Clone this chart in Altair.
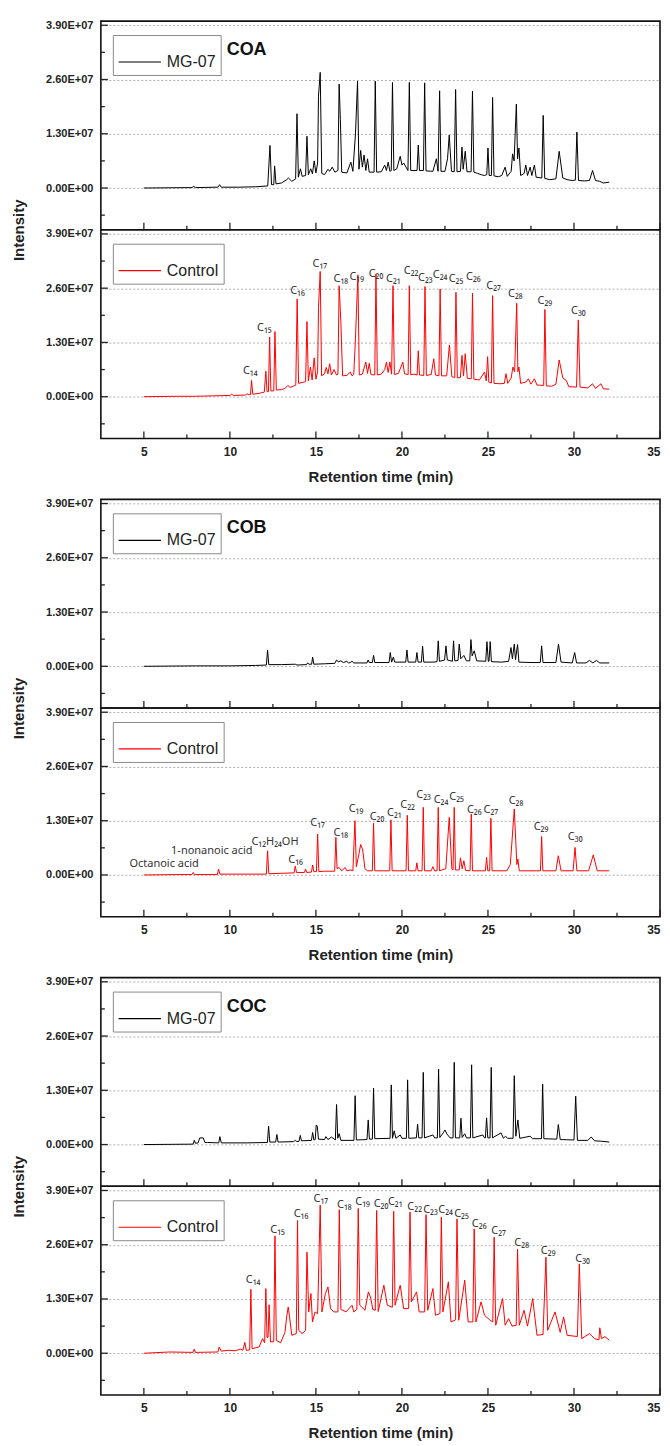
import altair as alt
import pandas as pd

# ---------------- axes / ticks ----------------
X_DOMAIN = [2.5, 35]
Y_DOMAIN = [-1.0e7, 4.0e7]
x_major = [5, 10, 15, 20, 25, 30, 35]
x_minor = [7.5, 12.5, 17.5, 22.5, 27.5, 32.5]
y_major = [0, 1.3e7, 2.6e7, 3.9e7]
y_minor = [-0.65e7, 0.65e7, 1.95e7, 3.25e7]

groups = ["COA", "COB", "COC"]
series_names = ["MG-07", "Control"]
series_colors = ["#000000", "#ff0000"]

# ---------------- traces: (retention time min, intensity x1e6) ----------------
coa_mg07 = [(5.0,0.0),(7.8,0.1),(7.9,0.4),(8.0,0.1),(9.3,0.2),(9.4,0.8),(9.5,0.2),(10.5,0.2),(11.5,0.3),(12.2,0.5),(12.33,10.2),(12.42,0.8),(12.55,0.8),(12.6,5.3),(12.68,1.0),(13.0,1.2),(13.3,2.0),(13.4,2.4),(13.6,1.6),(13.82,2.2),(13.9,17.8),(13.98,2.6),(14.1,4.6),(14.2,2.8),(14.4,3.0),(14.48,12.4),(14.56,3.2),(14.7,4.6),(14.8,3.4),(14.9,6.5),(15.0,3.6),(15.1,6.0),(15.15,22.0),(15.25,27.7),(15.34,3.5),(15.5,3.2),(15.7,4.5),(15.8,4.0),(15.95,5.0),(16.1,3.8),(16.28,4.2),(16.35,24.9),(16.42,16.5),(16.5,3.8),(16.8,3.6),(17.03,6.2),(17.15,4.0),(17.3,13.0),(17.42,25.6),(17.5,4.5),(17.6,9.0),(17.7,5.0),(17.8,7.9),(17.9,4.2),(18.0,7.0),(18.1,3.8),(18.38,3.8),(18.45,25.6),(18.53,3.8),(18.8,3.9),(19.0,5.5),(19.1,4.2),(19.2,6.2),(19.3,4.0),(19.38,4.2),(19.45,25.3),(19.53,4.2),(19.7,4.6),(19.9,7.6),(20.0,5.5),(20.1,6.0),(20.35,4.2),(20.43,25.3),(20.51,4.2),(20.7,4.2),(20.88,4.2),(20.95,10.3),(21.02,4.2),(21.25,4.2),(21.32,25.2),(21.4,4.1),(21.8,4.0),(22.0,7.0),(22.1,4.0),(22.19,23.3),(22.27,4.0),(22.5,4.0),(22.65,7.0),(22.75,12.7),(22.88,4.0),(23.04,3.9),(23.12,23.6),(23.2,3.9),(23.4,4.0),(23.49,9.8),(23.56,4.5),(23.68,8.8),(23.78,3.9),(24.02,3.9),(24.1,23.2),(24.18,3.8),(24.4,3.5),(24.6,3.2),(24.8,3.0),(24.93,3.2),(25.0,9.6),(25.07,3.0),(25.2,3.0),(25.27,21.7),(25.35,2.9),(25.6,2.7),(25.8,3.0),(26.0,5.0),(26.12,2.8),(26.35,4.0),(26.43,8.2),(26.52,6.5),(26.65,20.1),(26.72,7.0),(26.8,9.6),(26.9,3.0),(27.1,3.5),(27.2,5.5),(27.3,3.0),(27.45,5.0),(27.55,3.0),(27.7,5.5),(27.8,2.6),(28.13,2.4),(28.21,17.4),(28.3,2.3),(28.6,2.0),(28.95,2.2),(29.14,8.8),(29.35,2.4),(29.6,2.0),(29.9,1.8),(30.08,1.9),(30.17,13.4),(30.26,1.8),(30.6,1.7),(30.9,1.8),(31.08,4.2),(31.25,1.8),(31.5,1.6),(31.7,1.2),(32.05,1.4)]

coa_control = [(5.0,0.0),(7.0,0.1),(8.0,0.1),(9.0,0.2),(10.0,0.3),(10.1,0.6),(10.2,0.3),(10.9,0.4),(11.0,0.7),(11.1,0.5),(11.2,0.5),(11.26,3.9),(11.33,0.6),(11.7,0.8),(12.0,1.1),(12.09,6.1),(12.16,1.2),(12.24,1.2),(12.31,14.3),(12.38,1.4),(12.55,1.4),(12.62,15.6),(12.7,1.6),(13.0,1.7),(13.2,2.0),(13.37,2.7),(13.5,2.2),(13.83,2.8),(13.91,23.4),(13.99,3.2),(14.2,3.4),(14.4,3.6),(14.48,18.0),(14.56,3.8),(14.68,7.1),(14.78,4.0),(14.9,9.3),(15.0,4.2),(15.1,6.0),(15.15,21.4),(15.25,30.0),(15.33,5.0),(15.5,5.5),(15.6,7.0),(15.7,5.5),(15.8,7.9),(15.9,5.2),(16.05,6.5),(16.2,5.2),(16.28,5.4),(16.35,26.6),(16.45,17.9),(16.55,5.0),(16.8,5.1),(17.0,5.9),(17.1,5.0),(17.2,5.4),(17.3,14.0),(17.44,29.2),(17.52,5.2),(17.7,5.4),(17.9,8.3),(18.0,5.6),(18.1,8.0),(18.2,5.3),(18.42,5.2),(18.49,29.4),(18.57,5.2),(18.8,5.4),(19.0,6.5),(19.1,8.3),(19.2,5.8),(19.3,8.3),(19.4,5.4),(19.48,26.6),(19.56,5.3),(19.8,5.6),(20.05,8.3),(20.15,5.5),(20.36,5.3),(20.43,26.6),(20.51,5.3),(20.7,5.4),(20.88,5.2),(20.95,11.0),(21.02,5.2),(21.27,5.1),(21.34,26.4),(21.42,5.1),(21.7,5.3),(21.85,9.1),(21.95,5.2),(22.15,5.0),(22.22,25.8),(22.3,5.0),(22.6,5.0),(22.76,12.4),(22.9,4.8),(23.07,4.6),(23.14,25.0),(23.22,4.5),(23.4,4.6),(23.49,9.9),(23.58,5.0),(23.68,10.3),(23.8,4.4),(24.03,4.3),(24.1,24.8),(24.18,4.2),(24.5,4.0),(24.8,5.9),(24.9,3.8),(24.98,9.6),(25.05,3.5),(25.2,3.3),(25.27,24.2),(25.35,3.2),(25.7,3.1),(25.95,3.2),(26.05,5.5),(26.15,3.2),(26.35,4.5),(26.45,7.1),(26.55,6.0),(26.67,22.4),(26.74,6.0),(26.8,7.1),(26.9,3.2),(27.2,3.5),(27.35,4.3),(27.5,3.0),(27.7,4.3),(27.85,2.8),(28.24,2.7),(28.31,20.9),(28.39,2.6),(28.7,2.5),(28.95,3.0),(29.14,8.8),(29.35,4.5),(29.55,3.9),(29.7,2.4),(30.15,2.3),(30.25,18.4),(30.35,2.3),(30.8,2.1),(31.08,3.1),(31.25,2.0),(31.57,3.1),(31.7,1.9),(32.05,1.8)]

cob_mg07 = [(5.0,0.0),(8.0,0.1),(10.0,0.1),(11.5,0.2),(12.12,0.3),(12.19,3.9),(12.26,0.4),(13.0,0.4),(13.8,0.5),(13.9,0.3),(14.45,0.4),(14.52,0.8),(14.6,0.5),(14.75,0.5),(14.81,2.2),(14.88,0.5),(15.5,0.6),(16.1,0.7),(16.2,1.5),(16.3,1.1),(16.45,1.3),(16.6,0.9),(16.8,1.2),(16.9,0.8),(17.0,0.9),(17.1,1.2),(17.2,0.8),(17.97,0.8),(18.04,1.5),(18.1,0.9),(18.28,0.9),(18.35,2.6),(18.42,0.9),(19.25,0.9),(19.32,3.3),(19.4,1.0),(19.5,2.2),(19.58,1.0),(20.22,1.0),(20.29,3.9),(20.36,1.0),(20.8,1.0),(20.87,3.3),(20.94,1.0),(21.13,1.0),(21.2,4.8),(21.27,1.0),(21.8,1.0),(22.04,1.1),(22.11,6.1),(22.18,1.2),(22.48,1.5),(22.56,4.9),(22.64,1.5),(22.93,1.2),(23.0,6.1),(23.07,1.3),(23.26,1.4),(23.33,5.3),(23.42,1.8),(23.6,2.6),(23.75,1.3),(23.94,1.3),(24.01,6.4),(24.08,2.5),(24.2,3.7),(24.35,1.3),(24.87,1.2),(24.94,5.9),(25.02,1.2),(25.06,1.2),(25.13,5.9),(25.2,1.1),(25.8,1.0),(26.2,1.2),(26.34,4.5),(26.42,1.8),(26.53,5.3),(26.6,1.6),(26.72,5.2),(26.8,1.0),(27.5,0.9),(28.04,0.9),(28.12,4.9),(28.2,0.9),(28.95,0.9),(29.1,5.3),(29.25,1.0),(29.9,0.8),(30.04,3.3),(30.15,0.8),(30.7,0.8),(30.9,1.4),(31.1,0.8),(31.3,1.4),(31.5,0.8),(32.05,0.8)]

cob_control = [(5.0,0.0),(7.0,0.1),(7.8,0.1),(7.87,0.6),(7.94,0.1),(9.27,0.1),(9.34,1.4),(9.42,0.2),(12.12,0.2),(12.19,5.8),(12.26,0.3),(13.0,0.4),(13.73,0.5),(13.8,2.1),(13.87,0.6),(14.33,0.6),(14.4,1.4),(14.47,0.6),(14.74,0.7),(14.81,2.4),(14.88,0.8),(15.03,0.8),(15.1,9.8),(15.17,0.8),(15.5,0.9),(16.09,0.9),(16.16,9.0),(16.23,1.5),(16.35,1.8),(16.5,1.0),(16.7,1.8),(16.8,1.0),(17.0,1.2),(17.15,1.0),(17.22,8.2),(17.27,13.0),(17.35,2.0),(17.5,5.0),(17.6,7.3),(17.72,6.0),(17.85,1.5),(18.0,1.0),(18.28,1.0),(18.35,12.4),(18.42,1.0),(19.29,1.0),(19.36,13.2),(19.43,1.0),(20.24,1.0),(20.31,14.3),(20.38,1.0),(20.8,1.0),(20.87,2.9),(20.94,1.0),(21.17,1.0),(21.24,16.2),(21.31,1.0),(21.7,1.0),(21.8,2.0),(21.9,1.0),(22.04,1.0),(22.11,16.2),(22.18,1.0),(22.55,1.5),(22.75,13.8),(22.9,1.5),(22.97,1.2),(23.04,16.2),(23.11,1.2),(23.33,1.2),(23.4,4.1),(23.5,1.5),(23.6,3.4),(23.7,1.1),(23.96,1.0),(24.03,14.6),(24.1,1.0),(24.85,1.0),(24.92,4.2),(24.99,1.0),(25.1,1.0),(25.17,13.6),(25.24,1.0),(26.1,1.0),(26.3,2.5),(26.53,15.8),(26.68,2.5),(26.74,3.8),(26.82,1.0),(28.05,1.0),(28.12,9.2),(28.19,1.0),(28.95,1.0),(29.09,4.6),(29.25,1.0),(29.95,1.0),(30.06,6.6),(30.17,1.0),(30.85,1.0),(31.12,4.8),(31.35,1.0),(32.05,1.0)]

coc_mg07 = [(5.0,0.0),(7.86,0.1),(7.93,1.0),(8.0,0.3),(8.15,0.4),(8.25,1.6),(8.45,1.6),(8.55,0.5),(8.7,0.5),(9.35,0.4),(9.42,1.9),(9.5,0.4),(11.0,0.4),(12.18,0.5),(12.25,4.4),(12.32,0.6),(12.66,0.6),(12.73,2.4),(12.8,0.6),(13.7,0.7),(13.8,1.0),(13.9,0.7),(14.02,0.8),(14.09,2.2),(14.16,0.9),(14.74,1.0),(14.81,2.9),(14.88,1.1),(14.96,1.2),(15.02,4.7),(15.08,4.4),(15.15,1.3),(15.5,1.2),(15.58,1.9),(15.7,1.2),(15.9,1.8),(16.1,1.2),(16.13,1.1),(16.2,9.6),(16.27,1.5),(16.35,2.6),(16.45,1.0),(17.21,1.0),(17.28,11.7),(17.35,1.1),(17.97,1.2),(18.04,5.9),(18.11,1.3),(18.28,1.3),(18.35,13.5),(18.42,1.4),(19.31,1.5),(19.38,14.3),(19.45,1.5),(19.55,3.3),(19.65,1.5),(19.9,2.3),(20.0,1.5),(20.26,1.5),(20.33,15.5),(20.4,1.5),(20.84,1.6),(20.91,4.9),(20.98,1.6),(21.17,1.6),(21.24,17.3),(21.31,1.6),(21.8,2.3),(21.9,1.6),(22.06,1.6),(22.13,18.1),(22.2,1.7),(22.4,2.8),(22.5,3.5),(22.62,2.5),(22.8,1.6),(22.97,1.6),(23.04,19.7),(23.11,1.6),(23.36,1.6),(23.43,6.3),(23.5,1.7),(23.65,2.6),(23.75,1.6),(23.98,1.6),(24.05,19.1),(24.12,1.6),(24.7,2.3),(24.8,1.6),(24.85,1.6),(24.92,6.4),(24.99,1.6),(25.12,1.6),(25.19,18.5),(25.26,1.6),(25.76,2.8),(25.9,1.5),(26.02,2.0),(26.15,1.5),(26.46,1.5),(26.53,16.5),(26.62,2.0),(26.74,5.9),(26.85,1.5),(27.45,2.0),(27.6,1.4),(28.11,1.4),(28.18,14.5),(28.25,1.4),(29.0,1.3),(29.09,4.8),(29.2,1.2),(30.0,1.1),(30.1,11.6),(30.2,1.0),(30.8,1.0),(31.0,1.8),(31.2,0.9),(31.6,0.8),(32.05,0.6)]

coc_control = [(5.0,0.0),(6.5,0.3),(7.85,0.2),(7.93,1.0),(8.0,0.2),(9.3,0.3),(9.38,1.5),(9.5,0.5),(9.9,0.7),(10.3,0.6),(10.64,1.0),(10.75,0.7),(10.87,2.6),(10.95,0.7),(11.15,0.8),(11.22,15.3),(11.29,1.1),(11.7,1.5),(11.9,3.5),(12.02,2.5),(12.09,15.5),(12.16,3.8),(12.22,3.8),(12.28,11.6),(12.36,2.7),(12.55,2.8),(12.62,28.1),(12.7,3.1),(12.95,2.5),(13.2,5.0),(13.3,8.7),(13.39,11.1),(13.48,8.3),(13.6,4.3),(13.86,4.7),(13.93,31.8),(14.0,5.5),(14.2,4.7),(14.4,5.5),(14.48,24.2),(14.58,9.9),(14.71,14.3),(14.8,7.5),(14.95,9.9),(15.1,9.5),(15.25,35.5),(15.35,9.9),(15.55,14.3),(15.7,15.9),(15.85,10.7),(16.05,9.9),(16.28,9.9),(16.36,34.4),(16.45,10.5),(16.75,9.9),(17.1,11.5),(17.2,9.9),(17.38,10.5),(17.46,34.7),(17.55,11.5),(17.85,10.3),(18.05,14.7),(18.2,13.1),(18.3,10.5),(18.45,10.3),(18.53,34.2),(18.62,10.0),(18.95,16.3),(19.15,11.5),(19.44,11.0),(19.52,34.0),(19.6,11.5),(19.9,16.3),(20.1,10.7),(20.39,10.7),(20.47,33.8),(20.55,12.3),(20.85,14.7),(21.0,9.9),(21.32,9.9),(21.4,33.2),(21.5,10.3),(21.8,15.5),(21.95,9.1),(22.21,9.5),(22.29,32.6),(22.38,9.9),(22.7,17.1),(22.85,7.5),(23.12,8.0),(23.2,32.2),(23.3,7.9),(23.65,17.5),(23.85,7.5),(24.12,7.5),(24.2,29.8),(24.3,7.5),(24.6,12.3),(24.8,9.1),(25.1,8.0),(25.28,7.5),(25.36,27.8),(25.45,6.7),(25.85,13.1),(26.0,6.7),(26.2,8.3),(26.4,6.5),(26.64,6.7),(26.72,24.9),(26.82,6.7),(27.1,10.3),(27.3,6.5),(27.6,13.1),(27.85,4.3),(28.2,4.5),(28.37,23.0),(28.47,5.5),(28.9,9.9),(29.2,5.0),(29.4,8.7),(29.6,4.3),(30.2,4.0),(30.31,21.4),(30.45,3.5),(30.9,4.7),(31.2,3.5),(31.45,3.2),(31.5,6.1),(31.6,3.5),(31.8,4.0),(32.05,3.1)]

# ---------------- peak labels: (text, time, intensity x1e6) ----------------
coa_labels = [("C₁₄",11.18,6.1),("C₁₅",12.0,16.5),("C₁₆",13.93,25.4),("C₁₇",15.23,31.8),("C₁₈",16.45,28.2),("C₁₉",17.37,28.6),("C₂₀",18.49,29.4),("C₂₁",19.5,28.2),("C₂₂",20.53,30.0),("C₂₃",21.36,28.5),("C₂₄",22.22,29.2),("C₂₅",23.14,28.2),("C₂₆",24.15,28.6),("C₂₇",25.33,26.6),("C₂₈",26.59,24.6),("C₂₉",28.31,23.0),("C₃₀",30.25,20.6)]
cob_labels = [("Octanoic acid",6.18,2.6),("1-nonanoic acid",8.95,5.7),("C₁₂H₂₄OH",12.62,8.0),("C₁₆",13.82,3.7),("C₁₇",15.1,12.4),("C₁₈",16.45,10.0),("C₁₉",17.33,15.9),("C₂₀",18.55,14.0),("C₂₁",19.56,14.8),("C₂₂",20.33,16.7),("C₂₃",21.26,19.1),("C₂₄",22.27,18.0),("C₂₅",23.18,18.6),("C₂₆",24.2,15.6),("C₂₇",25.17,15.6),("C₂₈",26.63,17.8),("C₂₉",28.08,11.6),("C₃₀",30.07,9.2)]
coc_labels = [("C₁₄",11.35,17.6),("C₁₅",12.77,29.6),("C₁₆",14.13,33.4),("C₁₇",15.29,37.0),("C₁₈",16.65,35.4),("C₁₉",17.71,36.2),("C₂₀",18.78,35.8),("C₂₁",19.61,36.3),("C₂₂",20.74,35.0),("C₂₃",21.66,34.2),("C₂₄",22.54,34.2),("C₂₅",23.46,33.4),("C₂₆",24.49,31.0),("C₂₇",25.62,29.4),("C₂₈",26.96,26.5),("C₂₉",28.5,24.6),("C₃₀",30.5,22.6)]

W, H = 560, 209
FONT = "Liberation Sans"
LABEL_EXPR = "datum.value == 0 ? '0.00E+00' : format(datum.value / 1e7, '.2f') + 'E+07'"


def panel(trace, name, color, labels=None, group=None, first=False, last=False):
    df = pd.DataFrame(trace, columns=["t", "v"])
    df["v"] = df["v"] * 1e6
    df["series"] = name
    xs = alt.Scale(domain=X_DOMAIN, nice=False, zero=False)
    ys = alt.Scale(domain=Y_DOMAIN, nice=False, zero=False)
    if last:
        xaxis = alt.Axis(values=x_major, format="d", title="Retention time (min)",
                         ticks=False, tickSize=0, domain=False, grid=False,
                         labelFont=FONT, labelFontWeight="bold", labelFontSize=12,
                         labelColor="#222", labelPadding=8,
                         titleFont=FONT, titleFontWeight="bold", titleFontSize=15,
                         titleColor="#222", titlePadding=12)
    else:
        xaxis = None
    yargs = dict(values=y_major, labelExpr=LABEL_EXPR, ticks=False, tickSize=0,
                 domain=False, grid=True, gridDash=[2, 2], gridColor="#9a9a9a",
                 gridWidth=0.8, labelFont=FONT, labelFontWeight="bold",
                 labelFontSize=11, labelColor="#222", labelPadding=8)
    if first:
        yaxis = alt.Axis(title="Intensity", titleFont=FONT, titleFontWeight="bold",
                         titleFontSize=15, titleColor="#222", titleX=-82, titleY=H,
                         titleAlign="center", titleBaseline="middle", **yargs)
    else:
        yaxis = alt.Axis(title=None, **yargs)

    def X(f):
        return alt.X(f, type="quantitative", scale=xs, axis=xaxis)

    def Y(f):
        return alt.Y(f, type="quantitative", scale=ys, axis=yaxis)

    line = alt.Chart(df).mark_line(strokeWidth=1.0, clip=True).encode(
        x=X("t"), y=Y("v"),
        color=alt.Color("series:N", scale=alt.Scale(domain=[name], range=[color]),
                        legend=alt.Legend(title=None, orient="none", legendX=12, legendY=14,
                                          symbolType="stroke", symbolSize=1800,
                                          symbolStrokeWidth=1.2, strokeColor="#8a8a8a",
                                          fillColor="white", padding=5,
                                          labelFont=FONT, labelFontSize=16,
                                          labelColor="#222", labelOffset=5)),
        order="t:Q",
    )
    xt_maj = alt.Chart(pd.DataFrame({"t": x_major})).mark_rule(color="#222", strokeWidth=1.3).encode(
        x=X("t"), y=alt.value(H), y2=alt.value(H - 7))
    xt_min = alt.Chart(pd.DataFrame({"t": x_minor})).mark_rule(color="#222", strokeWidth=1.3).encode(
        x=X("t"), y=alt.value(H), y2=alt.value(H - 4))
    yt_maj = alt.Chart(pd.DataFrame({"v": y_major})).mark_rule(color="#222", strokeWidth=1.3).encode(
        y=Y("v"), x=alt.value(0), x2=alt.value(7))
    yt_min = alt.Chart(pd.DataFrame({"v": y_minor})).mark_rule(color="#222", strokeWidth=1.3).encode(
        y=Y("v"), x=alt.value(0), x2=alt.value(4))
    layers = [line, xt_maj, xt_min, yt_maj, yt_min]
    if labels:
        ldf = pd.DataFrame(labels, columns=["txt", "t", "v"])
        ldf["v"] = ldf["v"] * 1e6
        layers.append(alt.Chart(ldf).mark_text(font="Noto Sans", fontSize=11, color="#333",
                                               baseline="middle", align="center").encode(
            x=X("t"), y=Y("v"), text="txt:N"))
    if group:
        layers.append(alt.Chart(pd.DataFrame({"g": [group]})).mark_text(
            font=FONT, fontSize=18, fontWeight="bold", color="#111", align="left",
            baseline="middle").encode(x=alt.value(126), y=alt.value(29), text="g:N"))
    return alt.layer(*layers).properties(width=W, height=H)


traces = [(coa_mg07, coa_control, coa_labels),
          (cob_mg07, cob_control, cob_labels),
          (coc_mg07, coc_control, coc_labels)]

blocks = []
for g, (mg, ctl, labs) in zip(groups, traces):
    top = panel(mg, series_names[0], series_colors[0], group=g, first=True)
    bot = panel(ctl, series_names[1], series_colors[1], labels=labs, last=True)
    blocks.append(alt.vconcat(top, bot, spacing=0, bounds="flush").resolve_scale(color="independent"))

chart = alt.vconcat(*blocks, spacing=11).resolve_scale(color="independent").properties(
    padding={"left": 3, "top": 9, "right": 0, "bottom": 0}
).configure_view(stroke="#111", strokeWidth=1.6)

chart.save("out.html", embed_options={"renderer": "svg", "actions": False})
